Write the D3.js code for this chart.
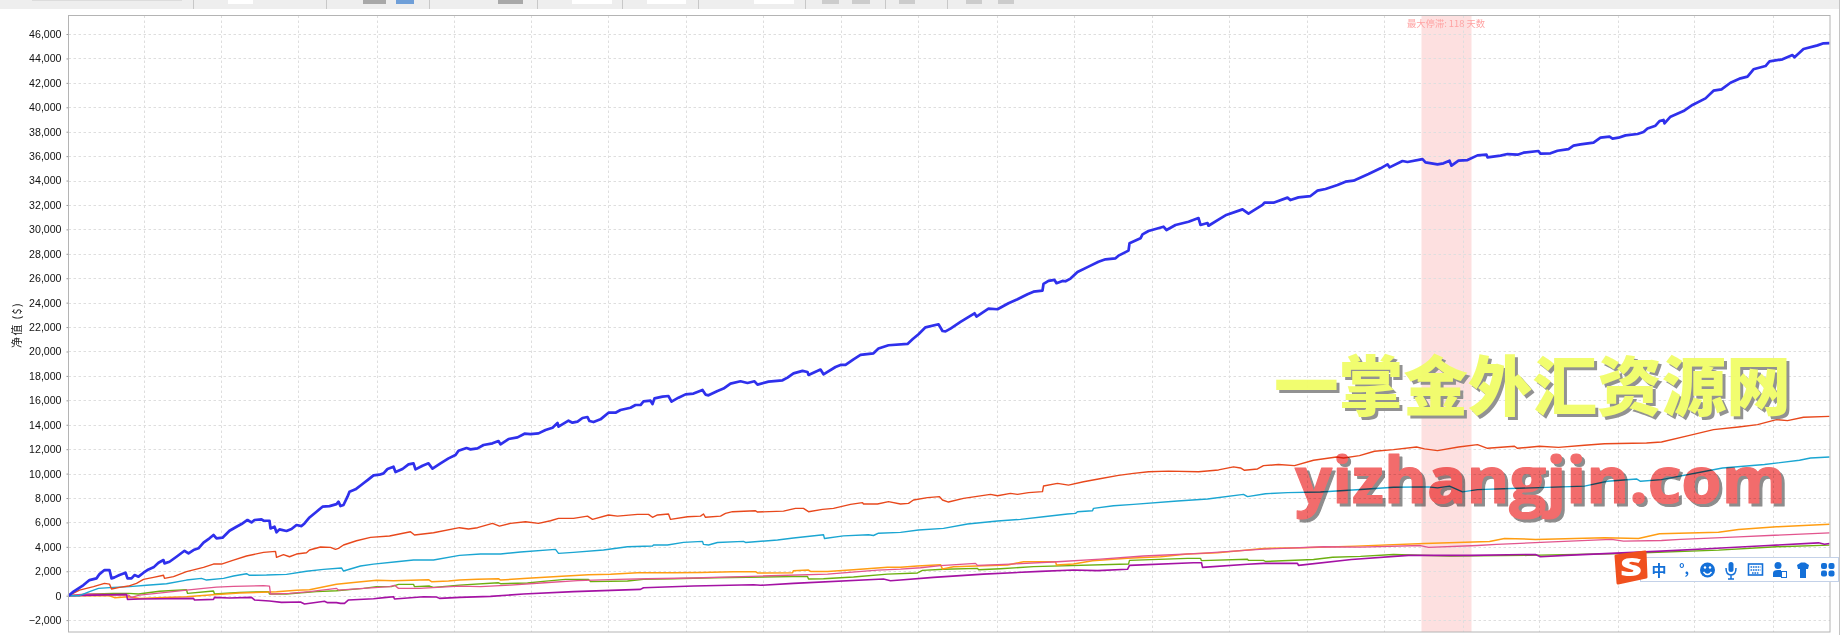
<!DOCTYPE html>
<html><head><meta charset="utf-8">
<script src="https://cdn.jsdelivr.net/npm/d3@7"></script>
<style>html,body{margin:0;padding:0;background:#fff;overflow:hidden}svg{display:block}</style>
</head><body><svg id="c" width="1840" height="635"></svg>
<script>
// x values are bar numbers along the (unlabelled) time axis, y values are net equity in $
const yTicks=[-2000,0,2000,4000,6000,8000,10000,12000,14000,16000,18000,20000,22000,24000,26000,28000,30000,32000,34000,36000,38000,40000,42000,44000,46000];
const xGridBars=[75,152.5,229.5,308,385,462.5,539.5,617.5,694.5,772.5,849.5,928.5,1005.5,1083.5,1160.5,1238.5,1315.5,1394.5,1470.5,1549.5,1625.5,1704.5];
const drawdownBars=[1353,1403];
const drawdownLabel="最大停滞: 118 天数";
const yLabel="净值 ($)";
const watermarkCn="一掌金外汇资源网";
const watermarkEn="yizhangjin.com";

const blue=[[0,0],[5,330],[10,600],[15,870],[21,1280],[28,1420],[31,1770],[36,2100],[41,2100],[43,1420],[46,1500],[51,1690],[57,1880],[59,1420],[63,1420],[66,1690],[70,1560],[75,1880],[80,2150],[85,2320],[90,2700],[95,2920],[96,2650],[101,2780],[108,3190],[116,3680],[120,3470],[125,3740],[130,3880],[135,4340],[141,4700],[145,4970],[148,4700],[154,4750],[161,5320],[168,5650],[173,5870],[179,6200],[183,6000],[186,6200],[193,6250],[195,6140],[201,6140],[202,5510],[206,5650],[208,5190],[211,5430],[218,5300],[223,5460],[228,5790],[233,5700],[236,5920],[241,6410],[248,6880],[254,7290],[261,7340],[268,7500],[270,7700],[272,7340],[275,7430],[279,8110],[281,8520],[287,8709],[294,9145],[300,9528],[305,9855],[311,9910],[315,10019],[319,10374],[325,10565],[327,10128],[334,10374],[340,10756],[345,10838],[347,10347],[354,10647],[360,10838],[364,10401],[372,10838],[380,11247],[387,11521],[390,11875],[398,12094],[402,11985],[409,12067],[415,12340],[424,12476],[430,12667],[432,12394],[440,12831],[449,12968],[456,13268],[462,13240],[470,13295],[477,13568],[484,13759],[489,14141],[490,13841],[500,14333],[504,14169],[509,14251],[514,14551],[519,14633],[521,14305],[525,14223],[532,14442],[540,14988],[547,14988],[552,15206],[562,15397],[567,15616],[572,15616],[575,15916],[582,15970],[584,15698],[586,16162],[594,16298],[600,16353],[603,15889],[610,16216],[617,16489],[625,16550],[634,16850],[637,16470],[640,16410],[649,16770],[655,16960],[662,17370],[672,17560],[679,17420],[686,17560],[689,17290],[700,17530],[714,17640],[719,17860],[725,18210],[734,18410],[739,18320],[740,18080],[752,18520],[755,18130],[767,18730],[772,18900],[777,18900],[785,19360],[792,19720],[805,19850],[810,20240],[820,20510],[839,20620],[844,21000],[850,21410],[857,21980],[870,22230],[874,21680],[877,21650],[882,21870],[892,22420],[899,22770],[906,23130],[908,22860],[920,23510],[929,23460],[940,23950],[949,24280],[959,24690],[965,24900],[974,24990],[975,25530],[980,25780],[986,25860],[988,25590],[994,25780],[997,25750],[1002,25970],[1009,26510],[1020,26950],[1030,27350],[1037,27550],[1047,27630],[1050,27850],[1060,28260],[1061,28860],[1072,29270],[1074,29590],[1080,29870],[1095,30220],[1098,29950],[1107,30360],[1120,30630],[1130,30930],[1132,30360],[1139,30520],[1140,30300],[1152,30900],[1157,31150],[1174,31640],[1180,31290],[1194,32000],[1196,32190],[1205,32190],[1219,32600],[1222,32400],[1230,32620],[1242,32730],[1249,33170],[1257,33310],[1269,33630],[1277,33910],[1285,33990],[1300,34530],[1312,35000],[1319,35330],[1321,35080],[1334,35600],[1339,35520],[1354,35760],[1357,35490],[1369,35330],[1375,35410],[1381,35630],[1383,35220],[1390,35630],[1399,35680],[1409,36060],[1418,36120],[1419,35900],[1432,36040],[1439,36170],[1449,36120],[1455,36280],[1470,36420],[1472,36200],[1482,36230],[1489,36440],[1500,36580],[1505,36860],[1512,36960],[1525,37100],[1532,37510],[1541,37590],[1544,37430],[1550,37510],[1557,37700],[1569,37810],[1575,37970],[1579,38270],[1587,38490],[1591,38870],[1595,38960],[1596,38680],[1602,39230],[1615,39690],[1624,40190],[1637,40730],[1645,41360],[1653,41470],[1662,42010],[1672,42370],[1679,42510],[1685,43110],[1697,43380],[1701,43760],[1714,43930],[1724,44280],[1726,44090],[1735,44770],[1749,45070],[1755,45240],[1761,45260]];

const red=[[0,0],[11,460],[25,740],[36,1010],[41,950],[43,550],[51,680],[60,790],[68,1010],[75,1340],[85,1500],[95,1670],[96,1420],[105,1560],[118,1970],[135,2320],[145,2590],[153,2590],[165,2920],[178,3250],[195,3550],[207,3630],[208,3140],[215,3360],[221,3190],[228,3410],[238,3520],[241,3740],[252,3990],[262,3960],[267,3790],[270,3880],[275,4150],[288,4500],[302,4780],[321,4890],[342,5240],[346,4970],[365,5160],[391,5570],[400,5460],[409,5570],[424,5920],[431,5700],[442,5920],[457,6060],[470,5920],[482,6140],[490,6330],[505,6330],[519,6520],[524,6250],[540,6610],[549,6520],[569,6660],[580,6660],[584,6420],[589,6610],[600,6690],[602,6250],[619,6470],[632,6520],[635,6690],[637,6420],[652,6520],[657,6740],[664,6880],[687,6960],[689,6850],[715,6930],[727,7150],[735,7150],[740,6880],[754,7070],[765,7150],[782,7480],[794,7620],[795,7510],[809,7510],[820,7700],[832,7510],[840,7560],[845,7840],[859,8030],[871,8110],[874,7840],[880,7670],[895,7970],[922,8300],[929,8190],[942,8380],[949,8300],[960,8440],[974,8520],[975,8980],[989,9200],[1000,9060],[1015,9330],[1030,9560],[1050,9850],[1065,10020],[1080,10150],[1100,10200],[1130,10150],[1150,10300],[1165,10550],[1172,10460],[1176,10270],[1189,10380],[1195,10650],[1210,10740],[1226,10650],[1245,11090],[1268,11360],[1275,11280],[1291,11470],[1306,11830],[1325,11960],[1348,12180],[1356,12020],[1369,11880],[1390,12180],[1409,12370],[1419,12070],[1446,12240],[1449,12070],[1471,12240],[1490,12150],[1516,12320],[1536,12450],[1578,12510],[1593,12590],[1620,13110],[1645,13600],[1670,13820],[1689,14010],[1708,14420],[1719,14340],[1735,14610],[1761,14690]];

const teal=[[0,0],[11,0],[21,330],[30,600],[45,680],[61,740],[78,850],[98,980],[118,1280],[133,1420],[138,1280],[155,1420],[165,1610],[178,1800],[181,1670],[198,1690],[218,1750],[238,2000],[255,2160],[273,2270],[275,2020],[292,2430],[305,2590],[328,2780],[345,2920],[365,2920],[391,3300],[412,3410],[432,3410],[452,3580],[487,3790],[490,3470],[505,3550],[535,3740],[559,4010],[584,4070],[585,4150],[599,4150],[615,4370],[634,4450],[635,4200],[640,4150],[649,4360],[675,4450],[677,4360],[709,4560],[725,4720],[755,4990],[756,4680],[775,4900],[800,4990],[805,4930],[810,5120],[832,5190],[850,5380],[875,5510],[899,5870],[929,6120],[952,6250],[975,6470],[999,6690],[1007,6740],[1009,6880],[1024,6960],[1025,7150],[1045,7370],[1065,7480],[1109,7750],[1139,7920],[1175,8300],[1179,8110],[1197,8350],[1219,8440],[1252,8490],[1292,8700],[1325,8880],[1360,8910],[1369,8830],[1381,8970],[1394,8500],[1409,8690],[1463,8830],[1516,8970],[1539,9370],[1568,9560],[1572,9370],[1593,9510],[1654,10460],[1696,10740],[1731,11090],[1742,11280],[1761,11360]];

const orange=[[0,0],[21,0],[31,0],[41,0],[46,-160],[60,-80],[71,-220],[95,-140],[118,-80],[141,60],[171,220],[208,330],[228,440],[241,490],[252,680],[268,930],[285,1090],[308,1260],[325,1230],[360,1310],[363,1150],[380,1200],[391,1280],[409,1340],[430,1390],[432,1280],[459,1420],[489,1580],[520,1720],[542,1750],[569,1880],[605,1880],[632,1910],[665,1970],[687,1970],[689,1860],[724,1880],[725,2050],[740,2100],[742,1990],[759,1990],[785,2130],[819,2320],[832,2320],[849,2430],[872,2540],[874,2180],[885,2370],[939,2510],[955,2780],[987,2780],[988,2510],[1005,2590],[1024,2860],[1059,3060],[1092,3190],[1119,3410],[1149,3520],[1195,3870],[1235,3930],[1287,4060],[1356,4280],[1421,4440],[1436,4690],[1467,4610],[1536,4740],[1570,4690],[1591,5070],[1650,5200],[1670,5420],[1708,5640],[1761,5860]];

const green=[[0,0],[25,140],[45,190],[60,190],[70,140],[91,360],[118,490],[119,190],[145,380],[146,140],[171,270],[200,330],[201,140],[218,140],[248,330],[268,410],[295,600],[308,740],[323,740],[330,930],[345,930],[346,740],[361,790],[365,680],[391,870],[430,1060],[432,980],[459,1040],[472,1150],[497,1340],[520,1340],[522,1150],[559,1200],[575,1340],[605,1390],[645,1470],[739,1580],[740,1370],[755,1390],[785,1530],[819,1770],[849,1860],[854,2070],[875,2160],[909,2240],[910,2130],[932,2210],[965,2380],[1060,2590],[1061,2890],[1119,3060],[1132,3060],[1133,2870],[1179,2980],[1180,2890],[1195,2890],[1197,2800],[1245,2970],[1264,3150],[1292,3220],[1325,3380],[1382,3240],[1459,3300],[1555,3460],[1650,3730],[1708,4010],[1761,4140]];

const pink=[[0,0],[18,140],[41,110],[43,50],[60,50],[63,-140],[71,50],[95,250],[118,460],[135,600],[148,710],[165,760],[195,820],[201,790],[202,140],[221,190],[241,330],[268,600],[270,460],[295,600],[321,740],[326,850],[330,600],[351,600],[391,790],[412,740],[442,870],[476,1060],[509,1230],[549,1340],[579,1390],[625,1450],[692,1610],[759,1770],[809,2100],[832,2180],[852,2290],[872,2460],[907,2650],[909,2480],[942,2590],[989,2780],[1032,3000],[1075,3250],[1132,3470],[1195,3820],[1255,4010],[1292,3980],[1352,4110],[1360,3950],[1409,4110],[1428,4200],[1478,4390],[1543,4610],[1555,4470],[1593,4520],[1612,4610],[1670,4820],[1761,5150]];

const purple=[[0,0],[25,50],[58,110],[59,-300],[71,-270],[125,-220],[126,-350],[145,-300],[146,-140],[161,-190],[183,-140],[186,-350],[201,-440],[213,-550],[232,-520],[236,-680],[256,-460],[259,-570],[268,-570],[272,-630],[276,-630],[280,-350],[305,-250],[318,-140],[325,-80],[326,-270],[355,-80],[368,-110],[371,-220],[391,-140],[422,-55],[455,140],[505,330],[572,520],[575,655],[625,790],[685,900],[692,850],[725,1010],[815,1365],[822,1230],[832,1280],[865,1500],[915,1770],[972,1990],[1005,2100],[1029,2050],[1059,2160],[1061,2480],[1125,2700],[1133,2700],[1134,2320],[1179,2570],[1195,2650],[1229,2650],[1230,2480],[1283,2970],[1340,3300],[1402,3300],[1467,3380],[1472,3190],[1497,3300],[1593,3650],[1639,3840],[1700,4110],[1750,4330],[1756,4220],[1761,4280]];

const lines=[
 {d:green,c:"#6caf10",w:1.4},{d:orange,c:"#ff9d12",w:1.5},{d:pink,c:"#e2558e",w:1.3},
 {d:purple,c:"#a412a4",w:1.6},{d:teal,c:"#1ba6d2",w:1.4},{d:red,c:"#e8481c",w:1.4},{d:blue,c:"#2f30ec",w:2.7}];

const svg=d3.select("#c");
const L=68.5,R=1830,T=15.5,B=632;
const x=d3.scaleLinear().domain([0,1761.5]).range([L,R]);
const y=d3.scaleLinear().domain([-2973,47517]).range([B,T]);

// window chrome strip above the chart
svg.append("rect").attr("width",1840).attr("height",9).attr("fill","#eeeeee");
svg.append("rect").attr("x",32).attr("width",150).attr("height",1).attr("fill","#dcdcdc");
[193,326,429,537,622,698,805,885,947].forEach(v=>svg.append("rect").attr("x",v).attr("width",1).attr("height",9).attr("fill","#c8c8c8"));
[[228,25,"#fff"],[363,23,"#a8a8a8"],[396,18,"#6f9fd8"],[498,25,"#a8a8a8"],[572,40,"#fff"],[647,39,"#fff"],[754,40,"#fff"],[822,17,"#ccc"],[852,18,"#ccc"],[899,16,"#ccc"],[966,16,"#ccc"],[998,16,"#ccc"]].forEach(b=>svg.append("rect").attr("x",b[0]).attr("width",b[1]).attr("height",4).attr("fill",b[2]));
svg.append("rect").attr("x",1839).attr("width",1).attr("height",635).attr("fill","#c4c4c4");

// drawdown band
svg.append("rect").attr("x",x(drawdownBars[0])).attr("y",T).attr("width",x(drawdownBars[1])-x(drawdownBars[0])).attr("height",B-T).attr("fill","#fde0e0");

// grid
const grid=svg.append("g").attr("stroke","#dedede").attr("stroke-width",1).attr("stroke-dasharray","2.5,2.5");
grid.selectAll(".h").data(yTicks).join("line").attr("x1",L).attr("x2",R).attr("y1",d=>Math.round(y(d))+.5).attr("y2",d=>Math.round(y(d))+.5);
grid.selectAll(".v").data(xGridBars).join("line").attr("y1",T).attr("y2",B).attr("x1",d=>Math.round(x(d))+.5).attr("x2",d=>Math.round(x(d))+.5);

// axis
const ax=svg.append("g").attr("transform",`translate(${L},0)`).call(d3.axisLeft(y).tickValues(yTicks).tickFormat(d3.format(",")).tickSize(2).tickPadding(5));
ax.select(".domain").remove();
ax.selectAll("line").attr("stroke","#999");
ax.selectAll("text").attr("font-family","'Liberation Sans',Arial,sans-serif").attr("font-size",10.6).attr("fill","#111");

svg.append("text").attr("transform","translate(21,325) rotate(-90)").attr("text-anchor","middle").attr("font-family","'Noto Sans CJK SC','Liberation Sans',sans-serif").attr("font-size",11).attr("letter-spacing",1.3).attr("fill","#222").text(yLabel);

// series
const ln=d3.line().x(d=>x(d[0])).y(d=>y(d[1]));
svg.append("g").attr("fill","none").attr("stroke-linejoin","round").selectAll("path").data(lines).join("path").attr("d",d=>ln(d.d)).attr("stroke",d=>d.c).attr("stroke-width",d=>d.w);

// drawdown label
svg.append("text").attr("x",x((drawdownBars[0]+drawdownBars[1])/2)-0.5).attr("y",27).attr("text-anchor","middle").attr("font-family","'Noto Sans CJK SC',sans-serif").attr("font-size",9.3).attr("fill","#ffa3a3").text(drawdownLabel);

// frame
svg.append("rect").attr("x",L).attr("y",T).attr("width",R-L).attr("height",B-T).attr("fill","none").attr("stroke","#b4b4b4").attr("stroke-width",1);

// watermark: shadow and face form one isolated group, blended as a whole
function wm(txt,xp,yp,len,size,font,weight,fill,stroke,blend,opacity){
 const g=svg.append("g").style("mix-blend-mode",blend).style("isolation","isolate").attr("opacity",opacity);
 const t=(dx,f)=>g.append("text").attr("x",xp+dx).attr("y",yp+dx).attr("textLength",len).attr("lengthAdjust","spacingAndGlyphs").attr("font-family",font).attr("font-weight",weight).attr("font-size",size).attr("fill",f).attr("stroke",f).attr("stroke-width",stroke).attr("stroke-linejoin","round").text(txt);
 t(3,"#8d8d8d"); t(0,fill);
}
wm(watermarkCn,1274,410,517,65,"'Noto Sans CJK SC',sans-serif",900,"#f1fd68",0,"normal",.95);
wm(watermarkEn,1295,503,491,65,"'Open Sans',sans-serif",700,"#f26c6c",1.2,"multiply",1);

// input-method status bar
const ime=svg.append("g");
ime.append("rect").attr("x",1640.5).attr("y",557.5).attr("width",198).attr("height",24).attr("fill","#fff").attr("stroke","#c3d1e8");
ime.append("path").attr("d","M1616 556 L1645 552 L1646 577 L1618 583 Z").attr("fill","#f0501e").attr("stroke","#f0501e").attr("stroke-width",3).attr("stroke-linejoin","round");
ime.append("text").attr("x",1620).attr("y",576).attr("textLength",22).attr("lengthAdjust","spacingAndGlyphs").attr("font-family","'Open Sans',sans-serif").attr("font-weight",800).attr("font-size",24).attr("fill","#fff").text("S");
const ic="#1470d8";
ime.append("text").attr("x",1659).attr("y",576).attr("text-anchor","middle").attr("font-family","'Noto Sans CJK SC',sans-serif").attr("font-weight",700).attr("font-size",15).attr("fill",ic).text("中");
ime.append("text").attr("x",1684).attr("y",574).attr("text-anchor","middle").attr("font-family","'Noto Sans CJK SC',sans-serif").attr("font-weight",700).attr("font-size",14).attr("fill",ic).text("°,");
ime.append("circle").attr("cx",1707.5).attr("cy",570).attr("r",7.5).attr("fill",ic);
ime.append("path").attr("d","M1703.5 572 Q1707.5 577 1711.5 572").attr("stroke","#fff").attr("stroke-width",1.5).attr("fill","none");
ime.append("circle").attr("cx",1705).attr("cy",567.5).attr("r",1.2).attr("fill","#fff");ime.append("circle").attr("cx",1710).attr("cy",567.5).attr("r",1.2).attr("fill","#fff");
ime.append("rect").attr("x",1728.5).attr("y",562).attr("width",5).attr("height",10).attr("rx",2.5).attr("fill",ic);
ime.append("path").attr("d","M1726 568 Q1726 575 1731 575 Q1736 575 1736 568 M1731 575 V579 M1728 579 H1734").attr("stroke",ic).attr("stroke-width",1.5).attr("fill","none");
ime.append("rect").attr("x",1748.5).attr("y",564).attr("width",14).attr("height",11).attr("fill","#fff").attr("stroke",ic).attr("stroke-width",1.6);
ime.append("path").attr("d","M1750.5 567 H1760.5 M1750.5 570 H1760.5 M1752 573 H1759").attr("stroke",ic).attr("stroke-width",1.4).attr("stroke-dasharray","1.6,.8");
ime.append("circle").attr("cx",1778).attr("cy",565.5).attr("r",3.5).attr("fill",ic);
ime.append("path").attr("d","M1773 577 V573 Q1773 570 1778 570 L1781 570 V577 Z").attr("fill",ic);
ime.append("rect").attr("x",1781.5).attr("y",571.5).attr("width",5).attr("height",6).attr("fill","#fff").attr("stroke",ic);
ime.append("path").attr("d","M1797 565 L1801 562.5 H1805 L1809 565 L1808 569 H1806 V578 H1800 V569 H1798 Z").attr("fill",ic);
[[1821,563],[1828.5,563],[1821,570.5],[1828.5,570.5]].forEach(p=>ime.append("rect").attr("x",p[0]).attr("y",p[1]).attr("width",6).attr("height",6).attr("rx",2).attr("fill",ic));
</script></body></html>
